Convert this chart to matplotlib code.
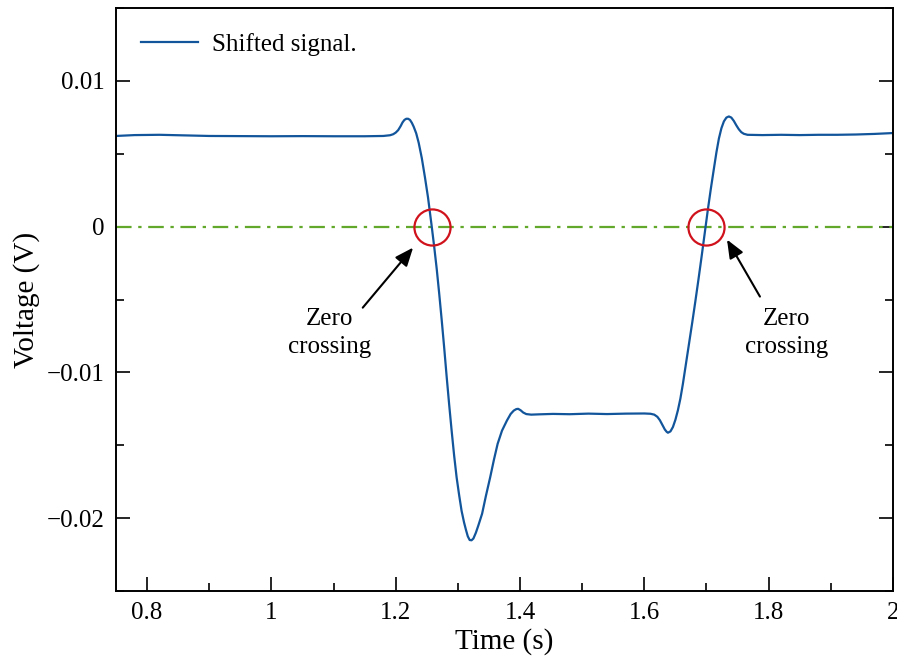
import matplotlib
matplotlib.use('Agg')
import matplotlib.pyplot as plt
from matplotlib import rcParams
from matplotlib.ticker import MultipleLocator, FuncFormatter

rcParams['font.family'] = 'serif'
rcParams['font.serif'] = ['Liberation Serif', 'DejaVu Serif']

# signal
time_s = [0.750, 0.780, 0.820, 0.860, 0.900, 0.950, 1.000, 1.050, 1.100, 1.150,
          1.180, 1.191, 1.196, 1.200, 1.204, 1.208, 1.211, 1.214, 1.217, 1.220,
          1.223, 1.226, 1.229, 1.233, 1.237, 1.242, 1.247, 1.252, 1.258, 1.262,
          1.266, 1.270, 1.274, 1.278, 1.282, 1.286, 1.290, 1.294, 1.298, 1.302,
          1.306, 1.310, 1.313, 1.316, 1.319, 1.322, 1.325, 1.329, 1.333, 1.339,
          1.345, 1.352, 1.358, 1.364, 1.371, 1.379, 1.385, 1.390, 1.394, 1.397,
          1.401, 1.405, 1.410, 1.418, 1.430, 1.453, 1.480, 1.510, 1.540, 1.570,
          1.600, 1.610, 1.616, 1.621, 1.625, 1.629, 1.633, 1.636, 1.638, 1.642,
          1.646, 1.650, 1.654, 1.658, 1.662, 1.667, 1.672, 1.677, 1.682, 1.687,
          1.692, 1.697, 1.702, 1.707, 1.712, 1.716, 1.720, 1.724, 1.728, 1.732,
          1.736, 1.740, 1.744, 1.748, 1.752, 1.756, 1.760, 1.766, 1.790, 1.820,
          1.850, 1.880, 1.910, 1.940, 1.970, 2.000]
voltage = [0.00622, 0.00628, 0.00630, 0.00626, 0.00622, 0.00621, 0.00620, 0.00621, 0.00620, 0.00620,
           0.00622, 0.00627, 0.00634, 0.00645, 0.00662, 0.00690, 0.00715, 0.00732, 0.00740, 0.00740,
           0.00732, 0.00712, 0.00685, 0.00640, 0.00575, 0.00470, 0.00340, 0.00200, 0.00000, -0.00140,
           -0.00290, -0.00460, -0.00640, -0.00830, -0.01030, -0.01220, -0.01400, -0.01570, -0.01720, -0.01840,
           -0.01950, -0.02030, -0.02080, -0.02125, -0.02150, -0.02152, -0.02140, -0.02100, -0.02050, -0.01970,
           -0.01850, -0.01720, -0.01600, -0.01490, -0.01400, -0.01330, -0.01285, -0.01262, -0.01252, -0.01250,
           -0.01260, -0.01275, -0.01286, -0.01290, -0.01288, -0.01285, -0.01287, -0.01283, -0.01286, -0.01283,
           -0.01282, -0.01284, -0.01290, -0.01305, -0.01328, -0.01360, -0.01392, -0.01408, -0.01414, -0.01405,
           -0.01375, -0.01325, -0.01260, -0.01180, -0.01080, -0.00940, -0.00800, -0.00660, -0.00515, -0.00365,
           -0.00210, -0.00050, 0.00110, 0.00260, 0.00400, 0.00510, 0.00605, 0.00675, 0.00722, 0.00748,
           0.00756, 0.00748, 0.00725, 0.00695, 0.00668, 0.00648, 0.00637, 0.00630, 0.00628, 0.00630,
           0.00628, 0.00630, 0.00630, 0.00632, 0.00636, 0.00642]

crossings_t = [1.258, 1.699]
crossings_v = [0.0, 0.0]
# arrow tip, arrow tail and text centre for each note
arrow_tips = [(1.228, -0.00144), (1.733, -0.00089)]
arrow_tails = [(1.147, -0.00556), (1.786, -0.00480)]
label_pos = [(1.094, -0.0073), (1.829, -0.0073)]

fig = plt.figure(figsize=(8.97, 6.66), dpi=100)
ax = fig.add_axes([0.1293, 0.1126, 0.8662, 0.8754])

ax.plot([0.75, 2.0], [0, 0], color='#62a82a', lw=1.6, ls=(0, (7, 3, 1.5, 3)))
ax.plot(time_s, voltage, color='#12559b', lw=1.6, label='Shifted signal.')
ax.plot(crossings_t, crossings_v, 'o', ms=26, mfc='none', mec='#d0121c', mew=1.6)

for tip, tail, pos in zip(arrow_tips, arrow_tails, label_pos):
    ax.annotate('', xy=tip, xytext=tail,
                arrowprops=dict(arrowstyle='-|>,head_length=0.8,head_width=0.33',
                                mutation_scale=14, color='black', lw=1.5,
                                shrinkA=0, shrinkB=0))
    ax.text(pos[0], pos[1], 'Zero\ncrossing', ha='center', va='center',
            fontsize=18, linespacing=1.3)

ax.set_xlim(0.75, 2.0)
ax.set_ylim(-0.025, 0.015)
ax.xaxis.set_major_locator(MultipleLocator(0.2))
ax.xaxis.set_minor_locator(MultipleLocator(0.1))
ax.yaxis.set_major_locator(MultipleLocator(0.01))
ax.yaxis.set_minor_locator(MultipleLocator(0.005))
ax.xaxis.set_major_formatter(FuncFormatter(lambda v, p: '%g' % round(v, 3)))
ax.yaxis.set_major_formatter(FuncFormatter(lambda v, p: ('%g' % round(v, 4)).replace('-', '\u2212')))

ax.tick_params(which='both', direction='in', top=False, right=True, width=1.2, labelsize=18)
ax.tick_params(which='major', length=10, pad=8)
ax.tick_params(which='minor', length=6)
for s in ax.spines.values():
    s.set_linewidth(1.4)

ax.set_xlabel('Time (s)', fontsize=21, labelpad=3)
ax.set_ylabel('Voltage (V)', fontsize=21, labelpad=5)

ax.legend(loc='upper left', frameon=False, fontsize=18, handlelength=2.3,
          handletextpad=0.55, borderaxespad=0.6)

fig.savefig('out.png', dpi=100)
